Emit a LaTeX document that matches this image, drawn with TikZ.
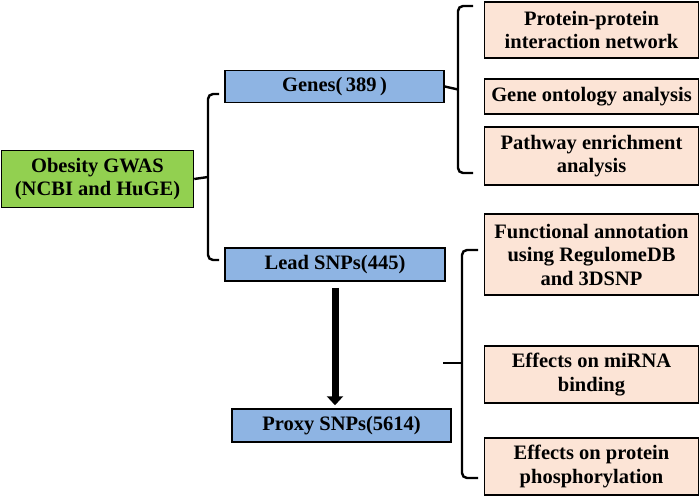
\documentclass[tikz,border=0pt]{standalone}
\usepackage{fontspec}
\setmainfont{Liberation Serif}
\usetikzlibrary{arrows.meta}
\definecolor{gwasgreen}{HTML}{92D050}
\definecolor{setblue}{HTML}{8EB4E3}
\definecolor{taskpink}{HTML}{FCE4D6}
\tikzset{
  box/.style={draw=black, line width=1.5pt, inner sep=0pt, align=center,
    font=\fontsize{20.5}{23.5}\selectfont\bfseries},
  greenbox/.style={box, fill=gwasgreen},
  bluebox/.style={box, fill=setblue},
  pinkbox/.style={box, fill=taskpink, minimum width=214pt},
  brace/.style={draw=black, line width=2.4pt, rounded corners=5pt},
  bigarrow/.style={draw=black, line width=7pt, -{Triangle[width=16pt,length=9pt]}}
}
\begin{document}
\begin{tikzpicture}[x=1pt,y=-1pt]
\useasboundingbox (0,0) rectangle (700,497);
% left column
\node[greenbox, minimum width=192pt, minimum height=57pt] (gwas) at (97.5,179) {Obesity GWAS\\(NCBI and HuGE)};
% middle column
\node[bluebox, minimum width=219pt, minimum height=32pt] (genes) at (334.5,86.5) {Genes(\,389\,)};
\node[bluebox, minimum width=220pt, minimum height=33pt] (lead) at (335,264.5) {Lead SNPs(445)};
\node[bluebox, minimum width=219pt, minimum height=33pt] (proxy) at (341.5,425.5) {Proxy SNPs(5614)};
% right column
\node[pinkbox, minimum height=56pt] (ppi) at (591.5,30) {Protein-protein\\interaction network};
\node[pinkbox, minimum height=35pt] (go) at (591.5,96.5) {Gene ontology analysis};
\node[pinkbox, minimum height=58pt] (path) at (591.5,156) {Pathway enrichment\\analysis};
\node[pinkbox, minimum height=81pt] (func) at (591.5,254.5) {Functional annotation\\using RegulomeDB\\and 3DSNP};
\node[pinkbox, minimum height=57pt] (mirna) at (591.5,374.5) {Effects on miRNA\\binding};
\node[pinkbox, minimum height=57pt] (phos) at (591.5,466.5) {Effects on protein\\phosphorylation};
% left brace
\coordinate (lbT) at (219,94);
\coordinate (lbB) at (219,260);
\coordinate (lbC) at (208,177);
\draw[brace] (lbT) -- (208,94) -- (208,260) -- (lbB);
\draw[brace, rounded corners=0pt] (gwas.east) -- (lbC);
% top right brace
\coordinate (rbT) at (473,6);
\coordinate (rbB) at (473,173);
\coordinate (rbC) at (458,89.5);
\draw[brace] (rbT) -- (458,6) -- (458,173) -- (rbB);
\draw[brace, rounded corners=0pt] (genes.east) -- (rbC);
% bottom right brace
\coordinate (sbT) at (478,250);
\coordinate (sbB) at (478,478);
\coordinate (sbC) at (462,363);
\coordinate (sbS) at (443,363);
\draw[brace] (sbT) -- (462,250) -- (462,478) -- (sbB);
\draw[brace, rounded corners=0pt] (sbS) -- (sbC);
% arrow lead -> proxy
\draw[bigarrow] ([yshift=-6pt]lead.south) -- ([yshift=3pt]lead.south |- proxy.north);
\end{tikzpicture}
\end{document}
